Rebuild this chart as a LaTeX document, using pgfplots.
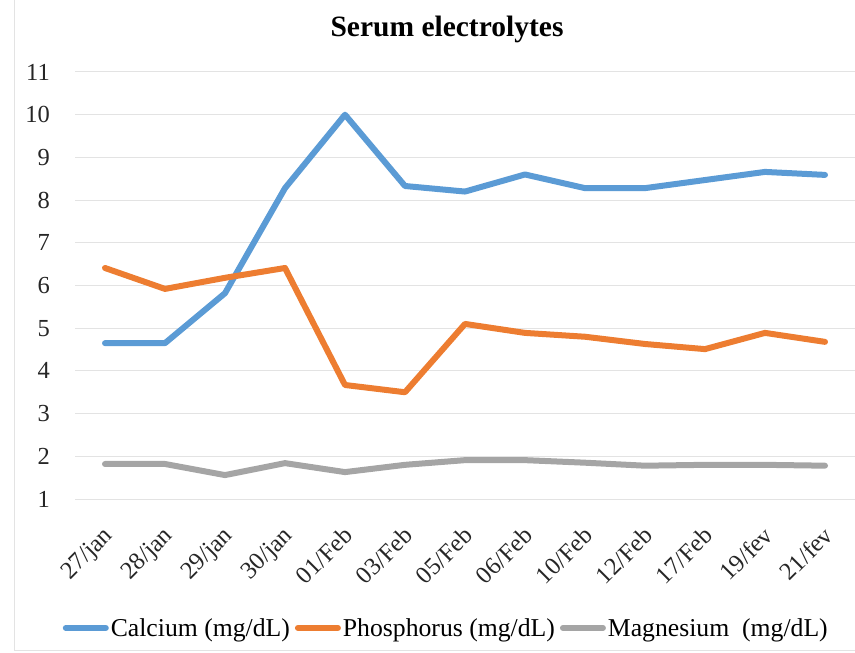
\documentclass[border=0pt]{standalone}
\usepackage{fontspec}
\setmainfont{Liberation Serif}
\usepackage{pgfplots}
\pgfplotsset{compat=1.18}
\definecolor{cblue}{HTML}{5B9BD5}
\definecolor{corange}{HTML}{ED7D31}
\definecolor{cgray}{HTML}{A5A5A5}
\definecolor{gridc}{HTML}{E3E3E3}
\begin{document}
\begin{tikzpicture}
\path[use as bounding box] (0,0) rectangle (855bp,653bp);
\draw[gridc, line width=1bp] (14bp,653bp) -- (14bp,2bp) -- (855bp,2bp);
\node[anchor=base, font=\fontsize{29.5bp}{32bp}\selectfont\bfseries] at (447bp,616bp) {Serum electrolytes};
\begin{axis}[
  at={(75bp,154bp)}, anchor=south west,
  scale only axis, width=780bp, height=427bp,
  xmin=-0.5, xmax=12.5, ymin=1, ymax=11,
  axis line style={draw=none},
  xtick={0,...,12},
  xticklabels={27/jan,28/jan,29/jan,30/jan,01/Feb,03/Feb,05/Feb,06/Feb,10/Feb,12/Feb,17/Feb,19/fev,21/fev},
  ytick={1,...,11},
  major tick length=0pt,
  ymajorgrids, grid style={gridc, line width=1bp},
  /pgf/number format/assume math mode=true,
  tick label style={font=\fontsize{24.5bp}{26bp}\selectfont, text=black!85},
  yticklabel style={anchor=east, inner sep=0pt, xshift=-25bp},
  xticklabel style={anchor=north east, inner sep=0pt, xshift=-3bp, yshift=-26bp, rotate=45},
  legend columns=3,
  legend style={at={(0.476,-0.302)}, anchor=center, draw=none, fill=none,
    font=\fontsize{25.7bp}{27bp}\selectfont, inner sep=0pt,
    /tikz/every even column/.append style={column sep=3bp}},
  legend cell align=left,
  legend image code/.code={\draw[line width=6bp, line cap=round] (0bp,0bp) -- (40bp,0bp);},
  every axis plot/.append style={line width=6bp, line join=round, line cap=round},
]
\addplot[cblue] coordinates {(0,4.65) (1,4.65) (2,5.82) (3,8.28) (4,10.0) (5,8.33) (6,8.2) (7,8.6) (8,8.28) (9,8.28) (10,8.47) (11,8.66) (12,8.59)};
\addlegendentry{Calcium (mg/dL)}
\addplot[corange] coordinates {(0,6.41) (1,5.92) (2,6.18) (3,6.41) (4,3.67) (5,3.5) (6,5.1) (7,4.89) (8,4.8) (9,4.63) (10,4.51) (11,4.89) (12,4.68)};
\addlegendentry{Phosphorus (mg/dL)}
\addplot[cgray] coordinates {(0,1.82) (1,1.82) (2,1.56) (3,1.84) (4,1.63) (5,1.8) (6,1.91) (7,1.91) (8,1.85) (9,1.78) (10,1.8) (11,1.8) (12,1.78)};
\addlegendentry{Magnesium\ \ (mg/dL)}
\end{axis}
\end{tikzpicture}
\end{document}
